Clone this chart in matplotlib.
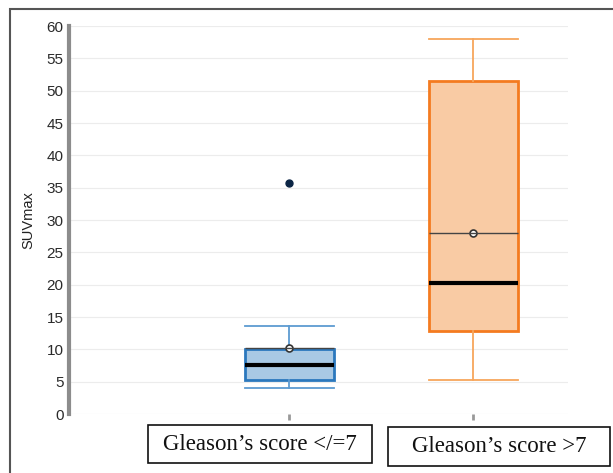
import matplotlib
matplotlib.use("Agg")
import matplotlib.pyplot as plt
from matplotlib.patches import Rectangle

plt.rcParams['font.family'] = ['Liberation Sans', 'DejaVu Sans']

# box statistics read per group (SUVmax)
groups = ["Gleason\u2019s score </=7", "Gleason\u2019s score >7"]
whislo = [4.0, 5.3]
q1 = [5.2, 12.9]
med = [7.6, 20.2]
q3 = [10.0, 51.5]
whishi = [13.6, 58.0]
means = [10.2, 28.0]
fliers = [[35.7], []]

edge_cols = ["#2b78bd", "#f47b20"]
fill_cols = ["#a9c9e4", "#f9cba4"]
whisk_cols = ["#5d9bd1", "#f7a65c"]

fig = plt.figure(figsize=(6.13, 4.73), dpi=100)
ax = fig.add_axes([0.1126, 0.1247, 0.8140, 0.8203])

stats = []
for i in range(len(groups)):
    stats.append(dict(whislo=whislo[i], q1=q1[i], med=med[i], q3=q3[i],
                      whishi=whishi[i], mean=means[i], fliers=fliers[i]))

pos = [1, 2]
w = 0.484
for i in range(len(groups)):
    ax.bxp([stats[i]], positions=[pos[i]], widths=w, capwidths=[w],
           patch_artist=True, showmeans=True,
           boxprops=dict(facecolor=fill_cols[i], edgecolor=edge_cols[i], linewidth=2.0),
           whiskerprops=dict(color=whisk_cols[i], linewidth=1.3),
           capprops=dict(color=whisk_cols[i], linewidth=1.3),
           medianprops=dict(color="black", linewidth=3, solid_capstyle="butt"),
           meanprops=dict(marker="o", markerfacecolor="white", markeredgecolor="#333333",
                          markersize=5, markeredgewidth=1.2),
           flierprops=dict(marker="o", markerfacecolor="#0b2545", markeredgecolor="#0b2545",
                           markersize=5),
           zorder=3)
    # mean line across the box
    ax.hlines(means[i], pos[i] - w / 2, pos[i] + w / 2, color="#444444", linewidth=1, zorder=4)

ax.set_xlim(-0.198, 2.514)
ax.set_ylim(0, 60)
ax.set_yticks(range(0, 61, 5))
ax.yaxis.grid(True, color="#ececec", linewidth=0.8)
ax.set_axisbelow(True)
for s in ["top", "right", "bottom"]:
    ax.spines[s].set_visible(False)
ax.spines["left"].set_color("#8c8c8c")
ax.spines["left"].set_linewidth(3)
ax.tick_params(axis="y", length=0, pad=4, labelsize=11, labelcolor="#2a2a2a")
ax.set_xticks(pos)
ax.set_xticklabels(["", ""])
ax.tick_params(axis="x", length=4, width=2, color="#999999", direction="out")
ax.set_ylabel("SUVmax", fontsize=10.5, color="#222222", labelpad=8)

# outer frame
fig.patches.append(Rectangle((10 / 613, -0.01), 1.1, 1 - 9 / 473 + 0.01, transform=fig.transFigure,
                             fill=False, edgecolor="#555555", linewidth=1.5))

# group label boxes
boxes = [(148, 372, 425, 463), (388, 610, 427, 466)]
for (x0, x1, y0, y1), lab in zip(boxes, groups):
    fig.patches.append(Rectangle((x0 / 613, 1 - y1 / 473), (x1 - x0) / 613, (y1 - y0) / 473,
                                 transform=fig.transFigure, fill=True, facecolor="white",
                                 edgecolor="#111111", linewidth=1.2))
    fig.text((x0 + x1) / 2 / 613, 1 - (y0 + y1) / 2 / 473, lab, ha="center", va="center",
             fontsize=16.5, family="Liberation Serif", color="#111111")

fig.savefig("out.png", dpi=100)
